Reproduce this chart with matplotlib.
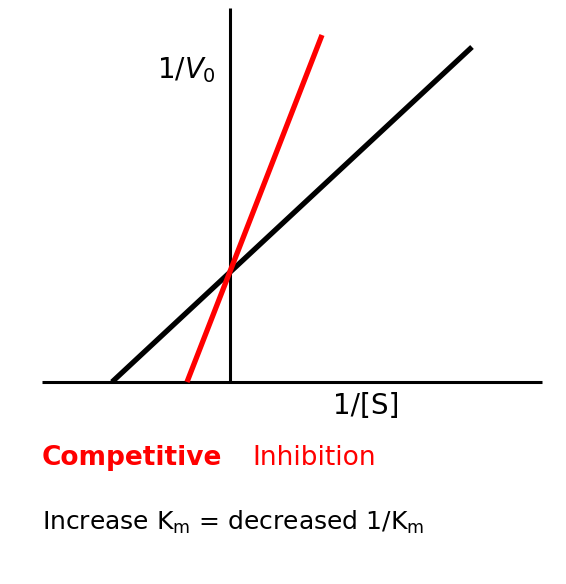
import matplotlib
matplotlib.use("Agg")
import matplotlib.pyplot as plt

plt.rcParams.update({"font.family": "DejaVu Sans", "mathtext.fontset": "custom",
                     "mathtext.rm": "DejaVu Sans", "mathtext.it": "DejaVu Sans:italic"})

# Lineweaver-Burk lines, in 1/[S] and 1/V0 units (origin at the axes crossing)
no_inhib_x = [-1.18, 2.42]
no_inhib_y = [0.0, 3.35]
comp_x = [-0.43, 0.92]
comp_y = [0.0, 3.47]
xaxis_x = [-1.88, 3.12]
yaxis_y = [0.0, 3.74]

fig = plt.figure(figsize=(5.66, 5.84), dpi=100)
ax = fig.add_axes([0, 0, 1, 1])
ax.set_xlim(-2.30, 3.36)
ax.set_ylim(-2.02, 3.82)
ax.axis("off")

ax.plot(xaxis_x, [0, 0], color="black", lw=2.2, solid_capstyle="butt")
ax.plot([0, 0], yaxis_y, color="black", lw=2.2, solid_capstyle="butt")
ax.plot(no_inhib_x, no_inhib_y, color="black", lw=3.8, solid_capstyle="butt")
ax.plot(comp_x, comp_y, color="#ff0000", lw=3.8, solid_capstyle="butt")

ax.text(-0.14, 3.12, r"1/$\mathit{V}_{\mathit{0}}$", fontsize=20, ha="right", va="center")
ax.text(1.36, -0.24, "1/[S]", fontsize=20, ha="center", va="center")

fig.text(42/566, 1 - 458/584, "Competitive", fontsize=19, fontweight="bold",
         color="#ff0000", va="center")
fig.text(252/566, 1 - 458/584, "Inhibition", fontsize=19, color="#ff0000", va="center")
fig.text(42/566, 1 - 522/584, r"Increase K$_\mathregular{m}$ = decreased 1/K$_\mathregular{m}$",
         fontsize=18, va="center")

fig.savefig("out.png", dpi=100, facecolor="white")
